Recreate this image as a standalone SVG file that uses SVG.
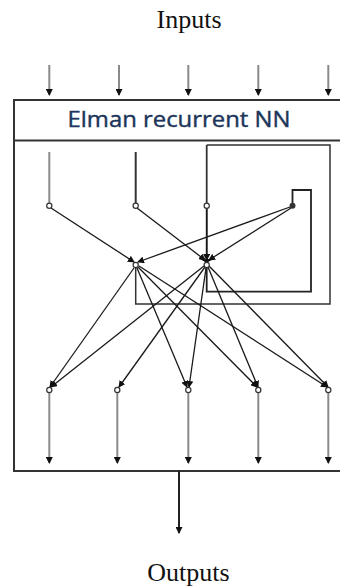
<svg xmlns="http://www.w3.org/2000/svg" width="340" height="587" viewBox="0 0 340 587">
<style>
.lbl{font-family:"Liberation Serif","Times New Roman",serif;font-size:26px;fill:#111}
.title{font-family:"Open Sans","Liberation Sans",Arial,sans-serif;font-size:22px;fill:#1c355a;stroke:#1c355a;stroke-width:0.4}
.io{stroke:#8a8a8a;stroke-width:2;fill:none}
.cn{stroke:#1a1a1a;stroke-width:1.3;fill:none}
.loop{stroke:#333;stroke-width:1.5;fill:none}
.nd{fill:#fff;stroke:#333;stroke-width:1.2}
.box{fill:none;stroke:#333;stroke-width:2}
</style>
<defs>
<marker id="ah" markerUnits="userSpaceOnUse" markerWidth="7" markerHeight="7" refX="6" refY="3.5" orient="auto">
<path d="M0,0 L7,3.5 L0,7 z" fill="#111"/>
</marker>
</defs>
<rect width="340" height="587" fill="#fff"/>
<text class="lbl" x="189" y="28" text-anchor="middle">Inputs</text>
<g id="frame">
<rect class="box" x="14" y="100" width="340" height="371"/>
<line x1="14" y1="140.5" x2="340" y2="140.5" stroke="#333" stroke-width="2"/>
<text class="title" x="179" y="127" text-anchor="middle" textLength="223" lengthAdjust="spacingAndGlyphs">Elman recurrent NN</text>
</g>
<g id="connectors">
<line class="io" x1="49.3" y1="65" x2="49.3" y2="95" marker-end="url(#ah)"/>
<line class="io" x1="119" y1="65" x2="119" y2="95" marker-end="url(#ah)"/>
<line class="io" x1="188.3" y1="65" x2="188.3" y2="95" marker-end="url(#ah)"/>
<line class="io" x1="258.3" y1="65" x2="258.3" y2="95" marker-end="url(#ah)"/>
<line class="io" x1="328.3" y1="65" x2="328.3" y2="95" marker-end="url(#ah)"/>
<line class="io" x1="49.3" y1="152" x2="49.3" y2="203"/>
<line x1="135.7" y1="152" x2="135.7" y2="203" stroke="#333" stroke-width="2"/>
<path d="M206.7,145 V203" stroke="#333" stroke-width="1.8" fill="none"/>
<path class="loop" d="M206.7,145 H330 V304 H135.7 V268"/>
<path d="M206.7,208 V291.7 H311 V190 H292.5 V203" stroke="#222" stroke-width="1.8" fill="none"/>
<line class="cn" x1="51" y1="208" x2="134" y2="262" marker-end="url(#ah)"/>
<line class="cn" x1="137" y1="208" x2="205" y2="260" marker-end="url(#ah)"/>
<line class="cn" x1="290" y1="207" x2="138" y2="262" marker-end="url(#ah)"/>
<line class="cn" x1="291" y1="208" x2="209" y2="260" marker-end="url(#ah)"/>
<line class="cn" x1="206.7" y1="208" x2="206.7" y2="260" marker-end="url(#ah)"/>
<line class="cn" x1="134" y1="268" x2="50" y2="387" marker-end="url(#ah)"/>
<line class="cn" x1="137" y1="268" x2="187" y2="387" marker-end="url(#ah)"/>
<line class="cn" x1="138" y1="267" x2="257" y2="387" marker-end="url(#ah)"/>
<line class="cn" x1="139" y1="266" x2="327" y2="387" marker-end="url(#ah)"/>
<line class="cn" x1="204" y1="266" x2="51" y2="387" marker-end="url(#ah)"/>
<line class="cn" x1="205" y1="267" x2="119" y2="387" marker-end="url(#ah)"/>
<line class="cn" x1="206" y1="268" x2="189" y2="387" marker-end="url(#ah)"/>
<line class="cn" x1="208" y1="267" x2="258" y2="387" marker-end="url(#ah)"/>
<line class="cn" x1="209" y1="266" x2="328" y2="387" marker-end="url(#ah)"/>
<line class="io" x1="49.3" y1="393" x2="49.3" y2="463" marker-end="url(#ah)"/>
<line class="io" x1="117.3" y1="393" x2="117.3" y2="463" marker-end="url(#ah)"/>
<line class="io" x1="188.3" y1="393" x2="188.3" y2="463" marker-end="url(#ah)"/>
<line class="io" x1="258.3" y1="393" x2="258.3" y2="463" marker-end="url(#ah)"/>
<line class="io" x1="328.3" y1="393" x2="328.3" y2="463" marker-end="url(#ah)"/>
<line x1="179" y1="471" x2="179" y2="533" stroke="#222" stroke-width="2" marker-end="url(#ah)"/>
</g>
<g id="in1"><circle class="nd" cx="49.3" cy="205.7" r="2.6"/></g>
<g id="in2"><circle class="nd" cx="135.7" cy="205.7" r="2.6"/></g>
<g id="in3"><circle class="nd" cx="206.7" cy="205.7" r="2.6"/></g>
<g id="ctx"><circle cx="292.5" cy="205.7" r="3" fill="#333"/></g>
<g id="h1"><circle class="nd" cx="135.7" cy="265" r="2.6"/></g>
<g id="h2"><path d="M200,259 H213 L206.7,263 z" fill="#111"/><circle class="nd" cx="206.7" cy="265" r="2.6"/></g>
<g id="o1"><circle class="nd" cx="49.3" cy="390" r="2.6"/></g>
<g id="o2"><circle class="nd" cx="117.3" cy="390" r="2.6"/></g>
<g id="o3"><circle class="nd" cx="188.3" cy="390" r="2.6"/></g>
<g id="o4"><circle class="nd" cx="258.3" cy="390" r="2.6"/></g>
<g id="o5"><circle class="nd" cx="328.3" cy="390" r="2.6"/></g>
<text class="lbl" x="188.5" y="581" text-anchor="middle">Outputs</text>
</svg>
